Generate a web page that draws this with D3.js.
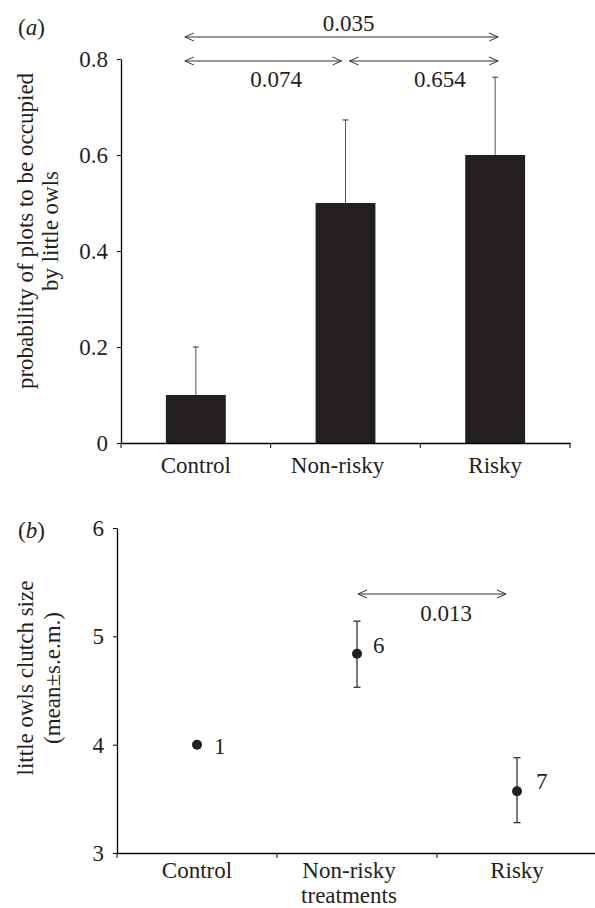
<!DOCTYPE html>
<html>
<head>
<meta charset="utf-8">
<script src="https://cdn.jsdelivr.net/npm/d3@7"></script>
<style>
  body { margin: 0; background: #fff; }
</style>
</head>
<body>
<div class="chart"></div>
<script>
// panel (a) data
const categoriesA = ['Control', 'Non-risky', 'Risky'];
const occupancy = [0.1, 0.5, 0.6];
const occupancyErr = [0.2, 0.673, 0.762];   // top of error bar
const ticksA = [0, 0.2, 0.4, 0.6, 0.8];
const compA = [
    {from: 'Control', to: 'Risky', p: '0.035'},
    {from: 'Control', to: 'Non-risky', p: '0.074'},
    {from: 'Non-risky', to: 'Risky', p: '0.654'}
];

// panel (b) data
const categoriesB = ['Control', 'Non-risky', 'Risky'];
const clutchMean = [4.0, 4.84, 3.57];
const clutchLow = [4.0, 4.53, 3.28];
const clutchHigh = [4.0, 5.14, 3.88];
const sampleN = ['1', '6', '7'];
const ticksB = [3, 4, 5, 6];
const compB = [{from: 'Non-risky', to: 'Risky', p: '0.013'}];

const FS = 23;
const FONT = "'Liberation Serif', 'Times New Roman', 'DejaVu Serif', serif";
const ink = '#231f20';

const svg = d3.select('.chart').append('svg')
    .attr('width', 595)
    .attr('height', 908)
    .attr('font-family', FONT);

function txt(sel) {
    return sel.attr('font-family', FONT).style('font-family', FONT)
        .style('font-size', FS + 'px').style('fill', ink);
}

// open chevron arrow at both ends
function arrow(g, x1, x2, y) {
    g.append('line')
        .attr('x1', x1).attr('x2', x2).attr('y1', y).attr('y2', y)
        .style('stroke', '#333').style('stroke-width', 1);
    g.append('path')
        .attr('d', 'M' + (x1 + 9) + ',' + (y - 4) + 'L' + x1 + ',' + y + 'L' + (x1 + 9) + ',' + (y + 4))
        .style('fill', 'none').style('stroke', '#333').style('stroke-width', 1);
    g.append('path')
        .attr('d', 'M' + (x2 - 9) + ',' + (y - 4) + 'L' + x2 + ',' + y + 'L' + (x2 - 9) + ',' + (y + 4))
        .style('fill', 'none').style('stroke', '#333').style('stroke-width', 1);
}

function panelLabel(letter, x, y) {
    const t = txt(svg.append('text').attr('x', x).attr('y', y));
    t.append('tspan').text('(');
    t.append('tspan').style('font-style', 'italic').text(letter);
    t.append('tspan').text(')');
}

function yTitle(lines, xs, cy) {
    lines.forEach((l, i) => {
        txt(svg.append('text')
            .attr('transform', 'translate(' + xs[i] + ',' + cy + ') rotate(-90)')
            .attr('text-anchor', 'middle'))
            .text(l);
    });
}

function xAxis(g, x, y0, labelShift, pad) {
    g.append('g')
        .attr('transform', 'translate(0,' + y0 + ')')
        .call(d3.axisBottom(x).tickSize(0).tickPadding(pad))
        .call(a => a.attr('font-family', null).attr('font-size', null))
        .call(a => a.select('.domain').style('stroke', '#000').style('stroke-width', 1.3))
        .call(a => txt(a.selectAll('text'))
            .attr('dx', d => labelShift[d] || 0));
    const edges = x.domain().map(d => x(d)).concat([x.range()[1]]);
    g.selectAll('.edge-tick')
        .data(edges)
        .enter().append('line')
        .attr('class', 'edge-tick')
        .attr('x1', d => d).attr('x2', d => d)
        .attr('y1', y0).attr('y2', y0 + 5)
        .style('stroke', '#000').style('stroke-width', 1);
}

function yAxis(g, y, x0, ticks, fmt) {
    g.append('g')
        .attr('transform', 'translate(' + x0 + ',0)')
        .call(d3.axisLeft(y).tickValues(ticks).tickFormat(fmt).tickSize(4).tickSizeOuter(0).tickPadding(9))
        .call(a => a.attr('font-family', null).attr('font-size', null))
        .call(a => a.select('.domain').style('stroke', '#000').style('stroke-width', 1.3))
        .call(a => txt(a.selectAll('text')));
}

// ---------- panel (a) ----------
const xA = d3.scaleBand().domain(categoriesA).range([121, 570]);
const yA = d3.scaleLinear().domain([0, 0.8]).range([443, 59]);
const gA = svg.append('g');
const barW = xA.bandwidth() * 0.4;
const cA = d => xA(d) + xA.bandwidth() / 2;

gA.selectAll('.bar')
    .data(categoriesA)
    .enter().append('rect')
    .attr('class', 'bar')
    .attr('x', d => cA(d) - barW / 2)
    .attr('width', barW)
    .attr('y', (d, i) => yA(occupancy[i]))
    .attr('height', (d, i) => yA(0) - yA(occupancy[i]))
    .style('fill', ink);

gA.selectAll('.err')
    .data(categoriesA)
    .enter().append('line')
    .attr('class', 'err')
    .attr('x1', d => cA(d)).attr('x2', d => cA(d))
    .attr('y1', (d, i) => yA(occupancy[i]))
    .attr('y2', (d, i) => yA(occupancyErr[i]))
    .style('stroke', '#555').style('stroke-width', 1);
gA.selectAll('.cap')
    .data(categoriesA)
    .enter().append('line')
    .attr('class', 'cap')
    .attr('x1', d => cA(d) - 3).attr('x2', d => cA(d) + 3)
    .attr('y1', (d, i) => yA(occupancyErr[i]))
    .attr('y2', (d, i) => yA(occupancyErr[i]))
    .style('stroke', '#333').style('stroke-width', 1);

yAxis(gA, yA, 121, ticksA, d => d === 0 ? '0' : d3.format('.1f')(d));
xAxis(gA, xA, 443, {'Non-risky': -8}, 14);

// comparison arrows (a)
const arrowLayoutA = [
    {y: 37, l: -11, r: 3, ly: 31, dx: 7},
    {y: 61, l: -11, r: -4, ly: 87, dx: 13},
    {y: 61, l: 4, r: 3, ly: 87, dx: 16}
];
compA.forEach((c, i) => {
    const L = arrowLayoutA[i];
    const x1 = cA(c.from) + L.l, x2 = cA(c.to) + L.r;
    arrow(gA, x1, x2, L.y);
    txt(gA.append('text')
        .attr('x', (x1 + x2) / 2 + L.dx).attr('y', L.ly)
        .attr('text-anchor', 'middle'))
        .text(c.p);
});

panelLabel('a', 18, 35);
yTitle(['probability of plots to be occupied', 'by little owls'], [33, 58], 231);

// ---------- panel (b) ----------
const xB = d3.scaleBand().domain(categoriesB).range([117, 597]);
const yB = d3.scaleLinear().domain([3, 6]).range([853, 528]);
const gB = svg.append('g');
const cB = d => xB(d) + xB.bandwidth() / 2;

yAxis(gB, yB, 117, ticksB, d3.format('d'));
xAxis(gB, xB, 853, {'Non-risky': -8}, 9);
// second line of the middle category label
txt(gB.append('text')
    .attr('x', cB('Non-risky') - 8).attr('y', 903)
    .attr('text-anchor', 'middle'))
    .text('treatments');

const withErr = categoriesB.filter((d, i) => clutchHigh[i] > clutchLow[i]);
gB.selectAll('.err')
    .data(withErr)
    .enter().append('line')
    .attr('class', 'err')
    .attr('x1', d => cB(d)).attr('x2', d => cB(d))
    .attr('y1', d => yB(clutchLow[categoriesB.indexOf(d)]))
    .attr('y2', d => yB(clutchHigh[categoriesB.indexOf(d)]))
    .style('stroke', '#222').style('stroke-width', 1.2);
['low', 'high'].forEach(k => {
    gB.selectAll('.cap-' + k)
        .data(withErr)
        .enter().append('line')
        .attr('class', 'cap-' + k)
        .attr('x1', d => cB(d) - 3.5).attr('x2', d => cB(d) + 3.5)
        .attr('y1', d => yB((k === 'low' ? clutchLow : clutchHigh)[categoriesB.indexOf(d)]))
        .attr('y2', d => yB((k === 'low' ? clutchLow : clutchHigh)[categoriesB.indexOf(d)]))
        .style('stroke', '#222').style('stroke-width', 1.2);
});

gB.selectAll('.dot')
    .data(categoriesB)
    .enter().append('circle')
    .attr('class', 'dot')
    .attr('cx', d => cB(d))
    .attr('cy', (d, i) => yB(clutchMean[i]))
    .attr('r', 5)
    .style('fill', ink);

const nOffset = [{dx: 17, dy: 9}, {dx: 16, dy: -1}, {dx: 19, dy: -2}];
txt(gB.selectAll('.n')
    .data(categoriesB)
    .enter().append('text')
    .attr('class', 'n')
    .attr('x', (d, i) => cB(d) + nOffset[i].dx)
    .attr('y', (d, i) => yB(clutchMean[i]) + nOffset[i].dy))
    .text((d, i) => sampleN[i]);

compB.forEach(c => {
    const x1 = cB(c.from) + 1, x2 = cB(c.to) - 11;
    arrow(gB, x1, x2, 594);
    txt(gB.append('text')
        .attr('x', (x1 + x2) / 2 + 14).attr('y', 621)
        .attr('text-anchor', 'middle'))
        .text(c.p);
});

panelLabel('b', 18, 538);
yTitle(['little owls clutch size', '(mean\u00b1s.e.m.)'], [33, 60], 678);
</script>
</body>
</html>
